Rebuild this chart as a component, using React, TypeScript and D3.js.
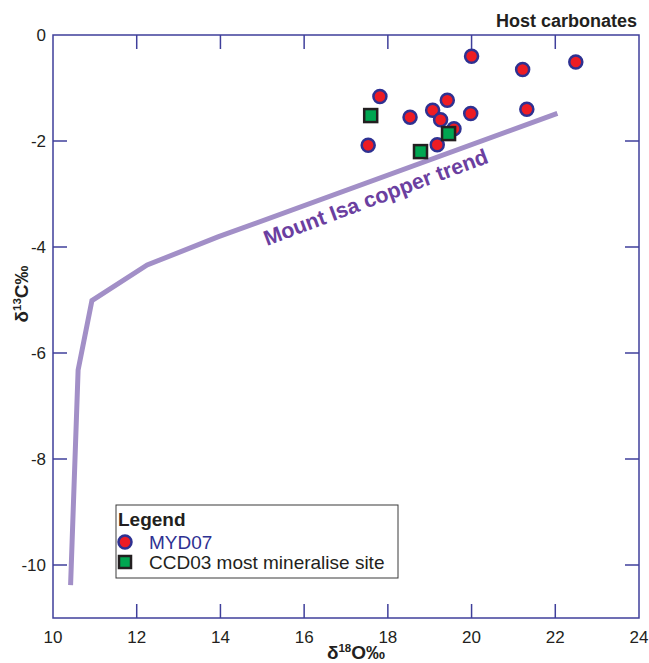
import * as d3 from 'd3';

const xTicks = [10, 12, 14, 16, 18, 20, 22, 24];
const yTicks = [0, -2, -4, -6, -8, -10];

// MYD07 host carbonates (d18O, d13C)
const myd07O = [20.0, 21.22, 22.49, 17.81, 19.42, 19.07, 19.98, 21.32, 18.53, 19.26, 19.58, 17.53, 19.18];
const myd07C = [-0.4, -0.65, -0.51, -1.16, -1.23, -1.42, -1.48, -1.4, -1.55, -1.6, -1.77, -2.08, -2.07];

// CCD03 most mineralised site
const ccd03O = [17.59, 19.45, 18.78];
const ccd03C = [-1.52, -1.86, -2.2];

// Mount Isa copper trend
const trendO = [10.42, 10.6, 10.93, 12.25, 13.94, 22.05];
const trendC = [-10.38, -6.32, -5.01, -4.34, -3.81, -1.48];

const W = 649;
const H = 663;
const left = 53;
const right = 639;
const top = 35;
const bottom = 618;

const axisColor = '#3f3f9b';
const textColor = '#231f20';
const font = '"Liberation Sans", Arial, sans-serif';

export default function App() {
  const x = d3.scaleLinear().domain([10, 24]).range([left, right]);
  const y = d3.scaleLinear().domain([-11, 0]).range([bottom, top]);

  const trend = d3
    .line<number>()
    .x((d) => x(trendO[d]))
    .y((d) => y(trendC[d]))(trendO.map((_, i) => i));

  const tl = 14;
  const labelAngle = -20.6;

  return (
    <svg
      width={W}
      height={H}
      style={{ position: 'absolute', left: 0, top: 0, fontFamily: font }}
    >
      <rect x={0} y={0} width={W} height={H} fill="#fff" />

      {/* trend line */}
      <path d={trend || ''} fill="none" stroke="#a28fc7" strokeWidth={5} strokeLinejoin="miter" />
      <text
        transform={`translate(267, 246) rotate(${labelAngle})`}
        fill="#6b3fa0"
        fontWeight="bold"
        fontSize={21.5}
      >
        Mount Isa copper trend
      </text>

      {/* frame */}
      <rect
        x={left}
        y={top}
        width={right - left}
        height={bottom - top}
        fill="none"
        stroke={axisColor}
        strokeWidth={1.5}
      />
      {xTicks.slice(1, -1).map((t) => (
        <g key={'xt' + t}>
          <line x1={x(t)} x2={x(t)} y1={bottom} y2={bottom - tl} stroke={axisColor} strokeWidth={1.5} />
          <line x1={x(t)} x2={x(t)} y1={top} y2={top + tl} stroke={axisColor} strokeWidth={1.5} />
        </g>
      ))}
      {yTicks.slice(1).map((t) => (
        <g key={'yt' + t}>
          <line x1={left} x2={left + tl} y1={y(t)} y2={y(t)} stroke={axisColor} strokeWidth={1.5} />
          <line x1={right} x2={right - tl} y1={y(t)} y2={y(t)} stroke={axisColor} strokeWidth={1.5} />
        </g>
      ))}

      {/* tick labels */}
      {xTicks.map((t) => (
        <text key={'xl' + t} x={x(t)} y={643} textAnchor="middle" fontSize={17} fill={textColor}>
          {t}
        </text>
      ))}
      {yTicks.map((t) => (
        <text
          key={'yl' + t}
          x={46}
          y={y(t)}
          dy="0.35em"
          textAnchor="end"
          fontSize={17}
          fill={textColor}
        >
          {t}
        </text>
      ))}

      {/* axis titles */}
      <text x={356} y={659} textAnchor="middle" fontSize={19} fontWeight="bold" fill={textColor}>
        δ<tspan fontSize={11.5} dy={-7}>18</tspan>
        <tspan dy={7}>O‰</tspan>
      </text>
      <text
        transform={`translate(28, 294) rotate(-90)`}
        textAnchor="middle"
        fontSize={19}
        fontWeight="bold"
        fill={textColor}
      >
        δ<tspan fontSize={11.5} dy={-7}>13</tspan>
        <tspan dy={7}>C‰</tspan>
      </text>

      {/* title */}
      <text x={637} y={27} textAnchor="end" fontSize={18} fontWeight="bold" fill={textColor}>
        Host carbonates
      </text>

      {/* points */}
      {myd07O.map((o, i) => (
        <circle
          key={'c' + i}
          cx={x(o)}
          cy={y(myd07C[i])}
          r={6.5}
          fill="#ed1c24"
          stroke="#2e3192"
          strokeWidth={2.5}
        />
      ))}
      {ccd03O.map((o, i) => (
        <rect
          key={'s' + i}
          x={x(o) - 6.5}
          y={y(ccd03C[i]) - 6.5}
          width={13}
          height={13}
          fill="#00a651"
          stroke="#231f20"
          strokeWidth={2.5}
        />
      ))}

      {/* legend */}
      <g>
        <rect x={116} y={505} width={282} height={73} fill="#fff" stroke="#3a3a3a" strokeWidth={1} />
        <text x={118} y={526} fontSize={19} fontWeight="bold" fill={textColor}>
          Legend
        </text>
        <circle cx={125} cy={542} r={6.5} fill="#ed1c24" stroke="#2e3192" strokeWidth={2.5} />
        <text x={149} y={548.5} fontSize={19} fill="#2e3192">
          MYD07
        </text>
        <rect x={119} y={556} width={12} height={12} fill="#00a651" stroke="#231f20" strokeWidth={2.5} />
        <text x={149} y={569} fontSize={19} fill={textColor}>
          CCD03 most mineralise site
        </text>
      </g>
    </svg>
  );
}
